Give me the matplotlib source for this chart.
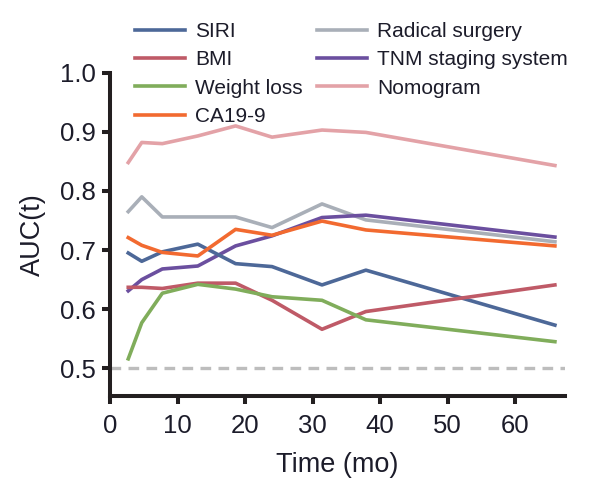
import matplotlib
matplotlib.use("Agg")
import matplotlib.pyplot as plt

plt.rcParams['font.family'] = ['Liberation Sans Narrow', 'Liberation Sans', 'DejaVu Sans']

# time points (months)
time = [2.7, 4.7, 7.75, 13.0, 18.6, 24.0, 31.4, 37.9, 65.9]

siri = [0.695, 0.681, 0.697, 0.710, 0.677, 0.672, 0.641, 0.666, 0.573]
bmi = [0.637, 0.637, 0.635, 0.644, 0.644, 0.615, 0.566, 0.596, 0.641]
weight_loss = [0.516, 0.577, 0.627, 0.642, 0.634, 0.621, 0.615, 0.582, 0.545]
ca199 = [0.721, 0.708, 0.696, 0.690, 0.735, 0.725, 0.749, 0.734, 0.707]
radical = [0.765, 0.790, 0.756, 0.756, 0.756, 0.738, 0.778, 0.751, 0.714]
tnm = [0.631, 0.650, 0.668, 0.673, 0.707, 0.724, 0.755, 0.759, 0.722]
nomogram = [0.848, 0.882, 0.880, 0.893, 0.910, 0.891, 0.903, 0.899, 0.843]

col1 = [("SIRI", siri, "#4d6898"), ("BMI", bmi, "#bf5a67"),
        ("Weight loss", weight_loss, "#80ad5b"), ("CA19-9", ca199, "#f26a30")]
col2 = [("Radical surgery", radical, "#a9afb8"), ("TNM staging system", tnm, "#6b4f9f"),
        ("Nomogram", nomogram, "#e3a2a7")]

fig = plt.figure(figsize=(5.89, 4.84), dpi=100)
ax = fig.add_axes([0.1868, 0.1824, 0.7725, 0.6674])

ax.axhline(0.5, color="#bdbdbd", lw=2.4, ls=(0, (3.2, 2.2)), zorder=1)

h1, h2 = [], []
for name, vals, c in col1:
    ln, = ax.plot(time, vals, color=c, lw=2.6, label=name, zorder=3)
    h1.append(ln)
for name, vals, c in col2:
    ln, = ax.plot(time, vals, color=c, lw=2.6, label=name, zorder=2)
    h2.append(ln)

ax.set_xlim(0, 67.4)
ax.set_ylim(0.4536, 1.0)
ax.set_xticks([0, 10, 20, 30, 40, 50, 60])
ax.set_yticks([0.5, 0.6, 0.7, 0.8, 0.9, 1.0])
ax.set_yticklabels(["0.5", "0.6", "0.7", "0.8", "0.9", "1.0"])

for s in ["top", "right"]:
    ax.spines[s].set_visible(False)
for s in ["left", "bottom"]:
    ax.spines[s].set_linewidth(2.9)
    ax.spines[s].set_color("#231f20")
    ax.spines[s].set_capstyle("projecting")
ax.tick_params(width=2.9, length=6, color="#231f20", labelsize=18.5,
               labelcolor="#1c1c2a")
ax.tick_params(axis="x", pad=7)
ax.tick_params(axis="y", pad=4)
ax.set_xlabel("Time (mo)", fontsize=19.5, color="#1c1c2a", labelpad=10)
ax.set_ylabel("AUC(t)", fontsize=19.5, color="#1c1c2a", labelpad=10)

leg_kw = dict(frameon=False, fontsize=15, handlelength=2.4, handletextpad=0.48,
              labelspacing=0.45, borderpad=0, borderaxespad=0, loc="upper left")
leg1 = fig.legend(handles=h1, bbox_to_anchor=(135 / 589, 1 - 22 / 484), **leg_kw)
for t in leg1.get_texts():
    t.set_color("#1c1c2a")
leg2 = fig.legend(handles=h2, bbox_to_anchor=(317 / 589, 1 - 22 / 484), **leg_kw)
for t in leg2.get_texts():
    t.set_color("#1c1c2a")

fig.savefig("out.png", dpi=100)
